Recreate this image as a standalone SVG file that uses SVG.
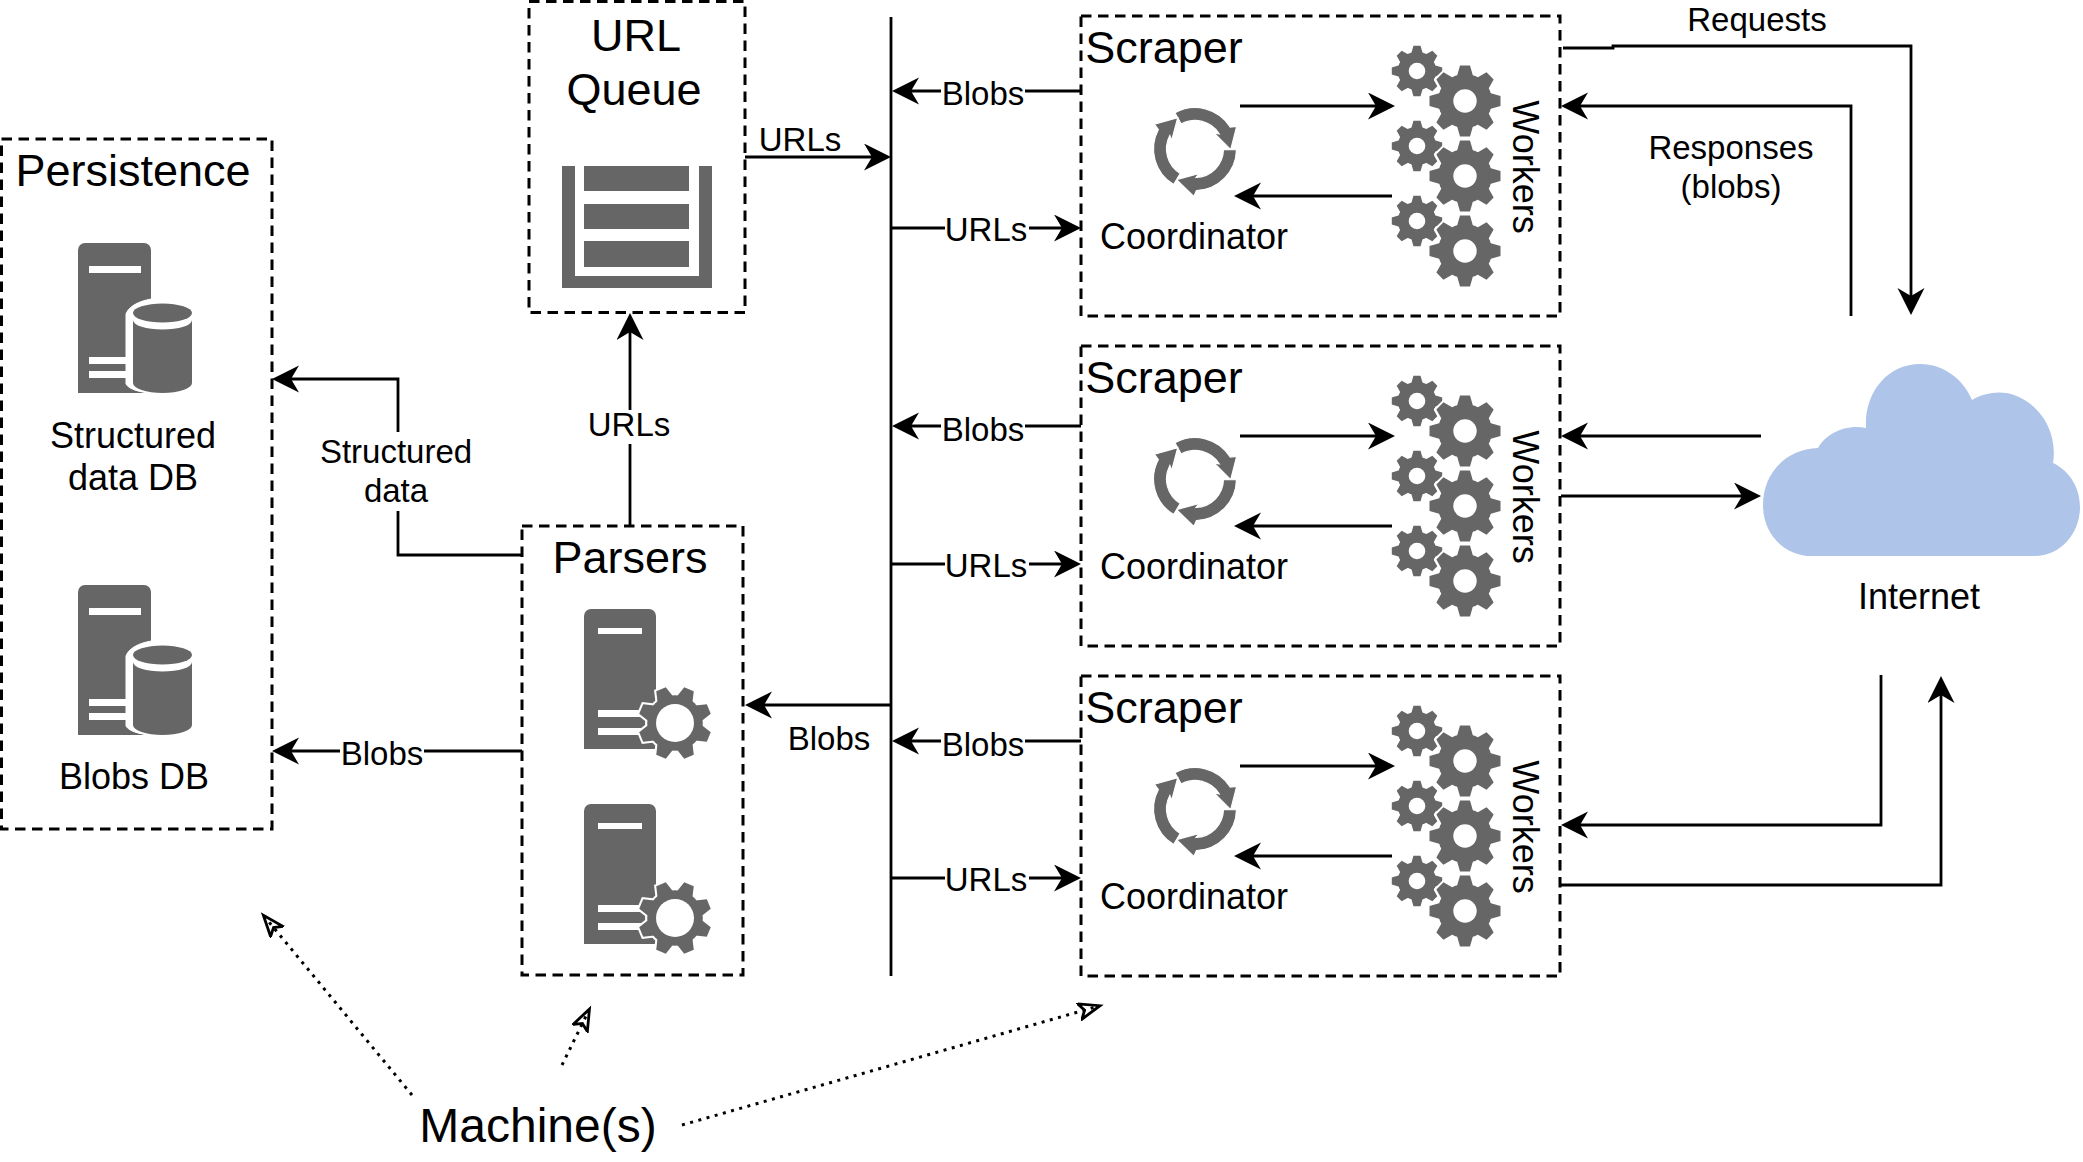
<svg xmlns="http://www.w3.org/2000/svg" width="2083" height="1162" viewBox="0 0 2083 1162">
<style>
text{font-family:"Liberation Sans",Arial,Helvetica,sans-serif;fill:#000}
.box{fill:none;stroke:#000;stroke-width:3;stroke-dasharray:10.5 6.5}
.t44{font-size:45px;text-anchor:middle}
.t36{font-size:36px;text-anchor:middle}
.t33{font-size:33px;text-anchor:middle}
.bg{fill:#fff}
.ic{fill:#666}
.wh{fill:#fff}
.halo{fill:#fff;stroke:#fff;stroke-width:4}
.c{fill:none;stroke:#000;stroke-width:2.8}
.a{marker-end:url(#arrow)}
.d{fill:none;stroke:#000;stroke-width:3;stroke-dasharray:3 5.5;marker-end:url(#open)}
</style>
<defs>
<marker id="arrow" markerUnits="userSpaceOnUse" markerWidth="28" markerHeight="28" refX="21" refY="13.5" orient="auto"><path d="M0,0L27,13.5L0,27L8,13.5Z" fill="#000"/></marker>
<marker id="open" markerUnits="userSpaceOnUse" markerWidth="30" markerHeight="24" refX="21" refY="9" orient="auto"><path d="M1,1L22,9L1,17L6,9Z" fill="none" stroke="#000" stroke-width="2.8"/></marker>
<path id="tooth" d="M-8,-25L-5,-35.5L5,-35.5L8,-25Z"/>
<g id="gearshape">
<circle r="27"/>
<use href="#tooth"/><use href="#tooth" transform="rotate(45)"/><use href="#tooth" transform="rotate(90)"/><use href="#tooth" transform="rotate(135)"/><use href="#tooth" transform="rotate(180)"/><use href="#tooth" transform="rotate(225)"/><use href="#tooth" transform="rotate(270)"/><use href="#tooth" transform="rotate(315)"/>
</g>
<g id="gear"><use href="#gearshape" class="ic"/><circle r="11.7" class="wh"/></g>
<g id="workers">
<use href="#gear" transform="translate(1417,71) scale(.71)"/>
<use href="#gearshape" class="halo" transform="translate(1465,101)"/><use href="#gear" transform="translate(1465,101)"/>
<use href="#gear" transform="translate(1417,146) scale(.71)"/>
<use href="#gearshape" class="halo" transform="translate(1465,176)"/><use href="#gear" transform="translate(1465,176)"/>
<use href="#gear" transform="translate(1417,221) scale(.71)"/>
<use href="#gearshape" class="halo" transform="translate(1465,251)"/><use href="#gear" transform="translate(1465,251)"/>
</g>
<path id="arm" d="M-20.1,-36.3A41.5,41.5 0 0 1 35.2,-22L41.7,-22.7L35.7,0.7L19,-16L24.2,-15.1A28.5,28.5 0 0 0 -13.8,-24.9Z" fill="#666" stroke="#fff" stroke-width="1.2"/>
<g id="coord"><use href="#arm"/><use href="#arm" transform="rotate(120)"/><use href="#arm" transform="rotate(240)"/></g>
<g id="scraper">
<rect class="box" x="1081" y="16" width="479" height="300"/>
<text class="t44" x="1164" y="63">Scraper</text>
<text class="t36" x="1194" y="249">Coordinator</text>
<text class="t36" transform="translate(1513,167) rotate(90)">Workers</text>
<use href="#coord" transform="translate(1195,149)"/>
<use href="#workers"/>
</g>
<g id="dbicon">
<path class="ic" d="M0,150V7A7,7 0 0 1 7,0H66A7,7 0 0 1 73,7V150Z"/>
<rect class="wh" x="11" y="23" width="52" height="7"/>
<rect class="wh" x="11" y="114" width="44" height="7"/>
<rect class="wh" x="11" y="128" width="44" height="7"/>
<path class="wh" d="M48,75A37,19 0 0 1 121,75V145A37,12 0 0 1 48,145Z" transform="translate(0,-4)" stroke="#fff" stroke-width="1"/>
<ellipse class="ic" cx="84.5" cy="70" rx="29.5" ry="9.5"/>
<path class="ic" d="M55,77A29.5,9.5 0 0 0 114,77V140A29.5,10 0 0 1 55,140Z"/>
</g>
<g id="srvgear">
<path class="ic" d="M0,140V7A7,7 0 0 1 7,0H65A7,7 0 0 1 72,7V140Z"/>
<rect class="wh" x="14" y="19" width="44" height="6"/>
<rect class="wh" x="14" y="101" width="50" height="7"/>
<rect class="wh" x="14" y="119" width="50" height="7"/>
<use href="#gearshape" class="halo" transform="translate(91,114) rotate(22.5) scale(1.03)"/>
<use href="#gearshape" class="ic" transform="translate(91,114) rotate(22.5) scale(1.03)"/>
<circle class="wh" cx="91" cy="114" r="19"/>
</g>
</defs>
<rect width="2083" height="1162" fill="#fff"/>

<g id="connectors">
<path class="c" d="M891,17V976"/>
<path class="c a" d="M745,157H885"/>
<path class="c a" d="M1081,91H898"/>
<path class="c a" d="M892,228H1075"/>
<path class="c a" d="M1081,426H898"/>
<path class="c a" d="M892,564H1075"/>
<path class="c a" d="M1081,741H898"/>
<path class="c a" d="M892,878H1075"/>
<path class="c a" d="M891,705H751"/>
<path class="c a" d="M630,526V319"/>
<path class="c a" d="M522,555H398V379H278"/>
<path class="c a" d="M522,751H278"/>
<path class="c a" d="M1563,48H1613V46H1911V309"/>
<path class="c a" d="M1851,316V106H1567"/>
<path class="c a" d="M1761,436H1567"/>
<path class="c a" d="M1561,496H1755"/>
<path class="c a" d="M1881,675V825H1567"/>
<path class="c a" d="M1561,885H1941V682"/>
<path class="c a" d="M1240,106H1389"/>
<path class="c a" d="M1392,196H1240"/>
<path class="c a" d="M1240,436H1389"/>
<path class="c a" d="M1392,526H1240"/>
<path class="c a" d="M1240,766H1389"/>
<path class="c a" d="M1392,856H1240"/>
<path class="d" d="M412,1095L264,916"/>
<path class="d" d="M562,1065L589,1010"/>
<path class="d" d="M682,1125L1099,1006"/>
<rect class="bg" x="941" y="75" width="84" height="32"/>
<rect class="bg" x="945" y="212" width="84" height="32"/>
<rect class="bg" x="941" y="410" width="84" height="32"/>
<rect class="bg" x="945" y="548" width="84" height="32"/>
<rect class="bg" x="941" y="725" width="84" height="32"/>
<rect class="bg" x="945" y="862" width="84" height="32"/>
<rect class="bg" x="587" y="410" width="84" height="34"/>
<rect class="bg" x="318" y="432" width="156" height="79"/>
<rect class="bg" x="340" y="735" width="84" height="32"/>
<text class="t33" x="800" y="151">URLs</text>
<text class="t33" x="983" y="105">Blobs</text>
<text class="t33" x="986" y="241">URLs</text>
<text class="t33" x="983" y="441">Blobs</text>
<text class="t33" x="986" y="577">URLs</text>
<text class="t33" x="983" y="756">Blobs</text>
<text class="t33" x="986" y="891">URLs</text>
<text class="t33" x="829" y="750">Blobs</text>
<text class="t33" x="629" y="436">URLs</text>
<text class="t33" x="396" y="463">Structured</text>
<text class="t33" x="396" y="502">data</text>
<text class="t33" x="382" y="765">Blobs</text>
<text class="t33" x="1757" y="31">Requests</text>
<text class="t33" x="1731" y="159">Responses</text>
<text class="t33" x="1731" y="198">(blobs)</text>
</g>

<g id="persistence">
<rect class="box" x="1.5" y="139" width="270.5" height="690"/>
<text class="t44" x="133" y="186">Persistence</text>
<use href="#dbicon" x="78" y="243"/>
<text class="t36" x="133" y="448">Structured</text>
<text class="t36" x="133" y="490">data DB</text>
<use href="#dbicon" x="78" y="585"/>
<text class="t36" x="134" y="789">Blobs DB</text>
</g>
<g id="url-queue">
<rect class="box" x="529" y="1.5" width="216" height="311"/>
<text class="t44" x="636" y="51">URL</text>
<text class="t44" x="634" y="105">Queue</text>
<path class="ic" d="M562,166H575V276H699V166H712V288H562Z"/>
<rect class="ic" x="584" y="166" width="105" height="25"/>
<rect class="ic" x="584" y="204" width="105" height="25"/>
<rect class="ic" x="584" y="241" width="105" height="26"/>
</g>
<g id="parsers">
<rect class="box" x="522" y="526" width="221" height="449"/>
<text class="t44" x="630" y="573">Parsers</text>
<use href="#srvgear" x="584" y="609"/>
<use href="#srvgear" x="584" y="804"/>
</g>
<g id="scraper-1"><use href="#scraper"/></g>
<g id="scraper-2"><use href="#scraper" y="330"/></g>
<g id="scraper-3"><use href="#scraper" y="660"/></g>
<g id="internet">
<path fill="#afc4e9" d="M1812,556C1784,556 1763,534 1763,505C1763,473 1786,449 1818,448C1826,434 1845,424 1866,428C1864,392 1888,364 1920,364C1944,364 1964,380 1972,400C1984,393 2000,390 2014,395C2040,404 2058,432 2053,463C2070,471 2080,488 2080,507C2080,534 2060,556 2035,556Z"/>
<text class="t36" x="1919" y="609">Internet</text>
</g>
<g id="machines"><text x="538" y="1142" style="font-size:48px;text-anchor:middle">Machine(s)</text></g>
</svg>
